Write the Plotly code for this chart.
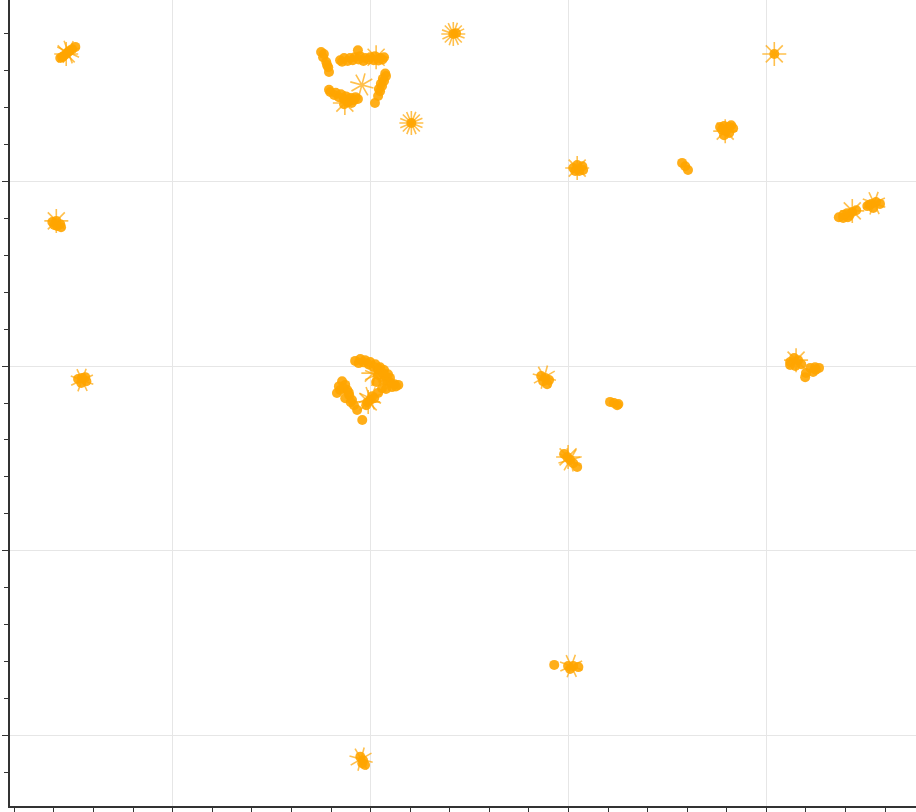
import plotly.graph_objects as go

# cluster member points (data units)
pts_x = [
    # A
    -12.84, -12.76, -12.69, -12.61, -12.54, -12.46, -12.79, -12.64,
    # B
    -13.04, -12.94, -12.84, -12.92, -12.99, -12.82,
    # C
    -12.39, -12.29, -12.18, -12.31, -12.21,
    # D top segment
    -5.77, -5.67, -5.52, -5.40, -5.27, -5.32, -5.14, -5.01, -4.89, -4.76, -4.66,
    -5.72, -5.58, -5.45, -5.30, -5.18, -5.05, -4.92, -4.80, -4.70,
    # D left segment
    -6.25, -6.20, -6.12, -6.07, -6.05, -6.18, -6.10,
    # D bottom segment
    -6.02, -5.92, -5.80, -5.67, -5.55, -5.42, -5.32, -5.67,
    -6.05, -5.88, -5.75, -5.62, -5.50, -5.38, -5.58, -5.48,
    # D right segment
    -4.61, -4.66, -4.71, -4.76, -4.81, -4.89, -4.63, -4.69, -4.74, -4.79,
    # E, F, G
    -2.91, -2.84, -3.97, 5.20,
    # H
    3.83, 3.93, 4.06, 4.16, 3.98, 3.93, 4.06, 3.88, 4.11,
    # I
    0.12, 0.22, 0.35, 0.27, 0.17, 0.37,
    # J
    2.87, 2.95, 3.02,
    # K
    6.83, 6.94, 7.04, 7.17, 7.27, 7.06, 6.94, 7.55, 7.65, 7.77, 7.87, 7.70, 7.10, 7.60,
    # L top arc
    -5.39, -5.26, -5.14, -5.01, -4.88, -4.76, -4.66, -4.56, -4.51,
    -5.30, -5.18, -5.05, -4.92, -4.80, -4.70, -4.62, -4.58,
    # L right end
    -4.40, -4.30, -4.46, -4.61, -4.50, -4.36,
    # L left arc
    -5.72, -5.64, -5.59, -5.54, -5.47, -5.42, -5.34, -5.77, -5.85, -5.64,
    -5.68, -5.55, -5.50, -5.80,
    # L bottom
    -5.21, -5.11, -5.01, -4.91, -4.81, -4.71, -4.81, -4.66, -4.86, -5.08, -4.96,
    # M
    -0.69, -0.59, -0.49, -0.54, -0.64,
    # N
    1.05, 1.15, 1.26, 1.23,
    # O
    -0.11, -0.03, 0.04, 0.12, 0.22,
    # P
    5.60, 5.70, 5.80, 5.88, 5.73, 5.60, 6.11, 6.23, 6.33, 6.18, 5.98, 6.00, 6.25,
    # Q
    -0.36, -0.01, 0.12, 0.25, 0.04,
    # R
    -5.26, -5.19, -5.14, -5.21,
]
pts_y = [
    # A
    8.34, 8.39, 8.45, 8.53, 8.58, 8.64, 8.36, 8.50,
    # B
    3.90, 3.93, 3.84, 3.79, 3.82, 3.76,
    # C
    -0.35, -0.32, -0.41, -0.46, -0.30,
    # D top segment
    8.28, 8.34, 8.34, 8.36, 8.39, 8.55, 8.34, 8.36, 8.39, 8.34, 8.36,
    8.24, 8.26, 8.28, 8.30, 8.26, 8.30, 8.28, 8.27, 8.30,
    # D left segment
    8.50, 8.36, 8.23, 8.09, 7.96, 8.45, 8.15,
    # D bottom segment
    7.42, 7.34, 7.28, 7.23, 7.17, 7.20, 7.23, 7.09,
    7.48, 7.40, 7.36, 7.30, 7.26, 7.28, 7.14, 7.12,
    # D right segment
    7.85, 7.72, 7.58, 7.44, 7.31, 7.12, 7.92, 7.78, 7.64, 7.50,
    # E, F, G
    8.99, 9.01, 6.58, 8.45,
    # H
    6.47, 6.50, 6.47, 6.44, 6.36, 6.25, 6.31, 6.40, 6.52,
    # I
    5.36, 5.44, 5.41, 5.28, 5.28, 5.31,
    # J
    5.50, 5.41, 5.31,
    # K
    4.03, 4.09, 4.14, 4.17, 4.22, 4.03, 4.01, 4.33, 4.39, 4.44, 4.39, 4.28, 4.08, 4.36,
    # L top arc
    0.14, 0.19, 0.16, 0.11, 0.05, -0.03, -0.11, -0.22, -0.32,
    0.08, 0.10, 0.04, -0.02, -0.10, -0.18, -0.28, -0.40,
    # L right end
    -0.49, -0.51, -0.57, -0.62, -0.45, -0.55,
    # L left arc
    -0.41, -0.51, -0.65, -0.79, -0.92, -1.06, -1.19, -0.65, -0.73, -0.87,
    -0.60, -0.72, -0.98, -0.55,
    # L bottom
    -1.46, -1.06, -0.92, -0.87, -0.73, -0.60, -0.24, -0.38, -0.43, -0.98, -0.82,
    # M
    -0.27, -0.32, -0.38, -0.49, -0.41,
    # N
    -0.97, -1.00, -1.03, -1.06,
    # O
    -2.38, -2.46, -2.54, -2.63, -2.73,
    # P
    0.11, 0.22, 0.16, 0.05, 0.00, 0.03, -0.05, -0.03, -0.05, -0.16, -0.30, -0.19, -0.10,
    # Q
    -8.09, -8.12, -8.12, -8.15, -8.20,
    # R
    -10.58, -10.67, -10.80, -10.75,
]

# centroid star markers (data units) and their rotations
star_x = [-12.69, -12.64, -12.94, -12.29, -4.86, -5.22, -5.65, -2.91, -2.91, -3.97, -3.97,
          5.20, 3.96, 0.22, 7.17, 7.72, -4.93, -4.86, -5.06, -5.01, -0.61,
          -0.01, 0.04, 5.75, 0.07, -5.24]
star_y = [8.45, 8.50, 3.93, -0.38, 8.36, 7.61, 7.12, 8.99, 8.99, 6.58, 6.58,
          8.45, 6.36, 5.36, 4.20, 4.41, -0.19, -0.24, -0.97, -0.87, -0.30,
          -2.46, -2.54, 0.16, -8.12, -10.64]
star_angle = [0, 25, 0, 20, 0, 15, 0, 20, 0, 0, 22, 0, 0, 0, 0, 20,
              0, 22, 0, 25, 15, 0, 30, 0, 20, 15]

ORANGE = "#FFA500"

fig = go.Figure()
fig.add_trace(go.Scatter(
    x=pts_x, y=pts_y, mode="markers",
    marker=dict(symbol="circle", size=10, color=ORANGE, opacity=0.9, line=dict(width=0)),
    hoverinfo="skip", showlegend=False,
))
fig.add_trace(go.Scatter(
    x=star_x, y=star_y, mode="markers",
    marker=dict(symbol="asterisk-open", size=20, angle=star_angle,
                color=ORANGE, opacity=0.7, line=dict(width=1.6, color=ORANGE)),
    hoverinfo="skip", showlegend=False,
))

axis_common = dict(
    showticklabels=False, ticks="outside", ticklen=6, tickwidth=1, tickcolor="#333",
    showline=True, linecolor="#333", linewidth=1.5, mirror=False,
    showgrid=True, gridcolor="#e6e6e6", gridwidth=1, zeroline=False,
    tick0=0, dtick=5,
    minor=dict(ticks="outside", ticklen=4, tickwidth=1, tickcolor="#333",
               dtick=1, tick0=0, showgrid=False),
)
fig.update_xaxes(range=[-14.11, 8.78], **axis_common)
fig.update_yaxes(range=[-11.91, 9.91], **axis_common)

fig.update_layout(
    width=916, height=812,
    margin=dict(l=10, r=0, t=0, b=6),
    paper_bgcolor="white", plot_bgcolor="white",
    showlegend=False,
)

fig.write_html("out.html")
